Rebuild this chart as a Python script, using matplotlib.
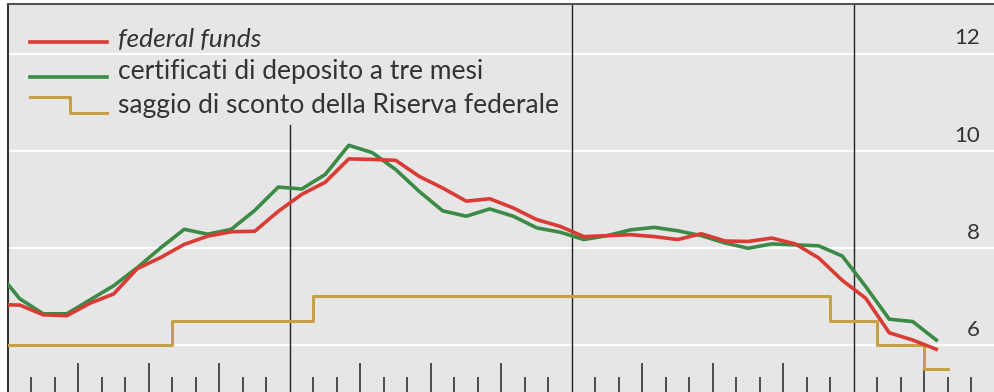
import numpy as np
import matplotlib
matplotlib.use("Agg")
import matplotlib.pyplot as plt
import matplotlib.transforms as mtransforms

# month index: 0 = January 1988 (monthly averages plotted mid-month)
months = np.arange(-1, 40)
fed_funds = [6.83, 6.82, 6.62, 6.60, 6.86, 7.05, 7.57, 7.80, 8.07, 8.24, 8.33,
             8.34, 8.75, 9.10, 9.35, 9.83, 9.82, 9.80, 9.47, 9.23, 8.96,
             9.01, 8.82, 8.58, 8.44, 8.23, 8.25, 8.27, 8.23, 8.17, 8.29,
             8.14, 8.13, 8.20, 8.08, 7.79, 7.33, 6.96, 6.25, 6.10, 5.91]
cd_3m = [7.54, 6.95, 6.64, 6.64, 6.93, 7.22, 7.59, 8.00, 8.38, 8.28, 8.38,
         8.77, 9.25, 9.21, 9.51, 10.11, 9.96, 9.61, 9.16, 8.76, 8.65,
         8.80, 8.65, 8.41, 8.32, 8.17, 8.25, 8.37, 8.42, 8.35, 8.25,
         8.10, 7.99, 8.08, 8.06, 8.04, 7.83, 7.20, 6.53, 6.48, 6.10]
disc_change_month = [0, 7, 13, 35, 37, 39, 40]
disc_rate = [6.0, 6.5, 7.0, 6.5, 6.0, 5.5, 5.5]
year_lines = [12, 24, 36]
y_ticks = [6, 8, 10, 12]
legend_labels = ["federal funds", "certificati di deposito a tre mesi",
                 "saggio di sconto della Riserva federale"]

RED = "#d93b35"
GREEN = "#3b8a45"
GOLD = "#c6a047"
BG = "#e6e6e6"
TXT = "#333333"

plt.rcParams["font.family"] = ["Lato", "DejaVu Sans"]

fig = plt.figure(figsize=(9.95, 3.92), dpi=100)
ax = fig.add_axes([8 / 995, 0, 987 / 995, 388 / 392])
ax.set_facecolor(BG)
ax.set_xlim(0, 42)
ax.set_ylim(5.03, 13.02)

for v in y_ticks:
    ax.axhline(v, color="white", lw=1.6, zorder=1)

for i, t in enumerate(year_lines):
    ymax = 0.688 if i == 0 else 1.0
    ax.axvline(t, ymin=0, ymax=ymax, color="#222222", lw=1.0, zorder=2)

ax.step(disc_change_month, disc_rate, where="post", color=GOLD, lw=2.2, zorder=3)
ax.plot(months + 0.5, cd_3m, color=GREEN, lw=2.6, zorder=4, solid_joinstyle="round")
ax.plot(months + 0.5, fed_funds, color=RED, lw=2.6, zorder=5, solid_joinstyle="round")

# month ticks (quarters longer)
major = [t for t in range(1, 42) if t % 3 == 0 and t not in year_lines]
minor = [t for t in range(1, 42) if t % 3 != 0]
ax.set_xticks(major)
ax.set_xticks(minor, minor=True)
ax.tick_params(axis="x", which="major", direction="in", length=21, width=1.1,
               color="#222222", labelbottom=False, top=False)
ax.tick_params(axis="x", which="minor", direction="in", length=10.5, width=1.1,
               color="#222222", labelbottom=False, top=False)
ax.tick_params(axis="y", left=False, right=False, labelleft=False)

for s in ["right", "bottom"]:
    ax.spines[s].set_visible(False)
ax.spines["left"].set_color("#333333")
ax.spines["left"].set_linewidth(1.5)
ax.spines["top"].set_color("#555555")
ax.spines["top"].set_linewidth(1.5)

trans = mtransforms.blended_transform_factory(ax.transAxes, ax.transData)
for v in y_ticks:
    ax.text(0.985, v + 0.31, str(v), transform=trans, ha="right", va="center",
            fontsize=16, color=TXT)

# legend
ax.plot([0.0223, 0.1003], [0.902, 0.902], transform=ax.transAxes, color=RED, lw=2.6)
ax.plot([0.0223, 0.1003], [0.812, 0.812], transform=ax.transAxes, color=GREEN, lw=2.6)
ax.plot([0.0223, 0.0628, 0.0628, 0.1003], [0.760, 0.760, 0.719, 0.719],
        transform=ax.transAxes, color=GOLD, lw=2.2)
ys = [0.890, 0.807, 0.718]
for i, (lab, y) in enumerate(zip(legend_labels, ys)):
    ax.text(0.1115, y, lab, transform=ax.transAxes, ha="left", va="baseline",
            fontsize=19, color=TXT, style="italic" if i == 0 else "normal")

fig.savefig("out.png", dpi=100, facecolor="white")
